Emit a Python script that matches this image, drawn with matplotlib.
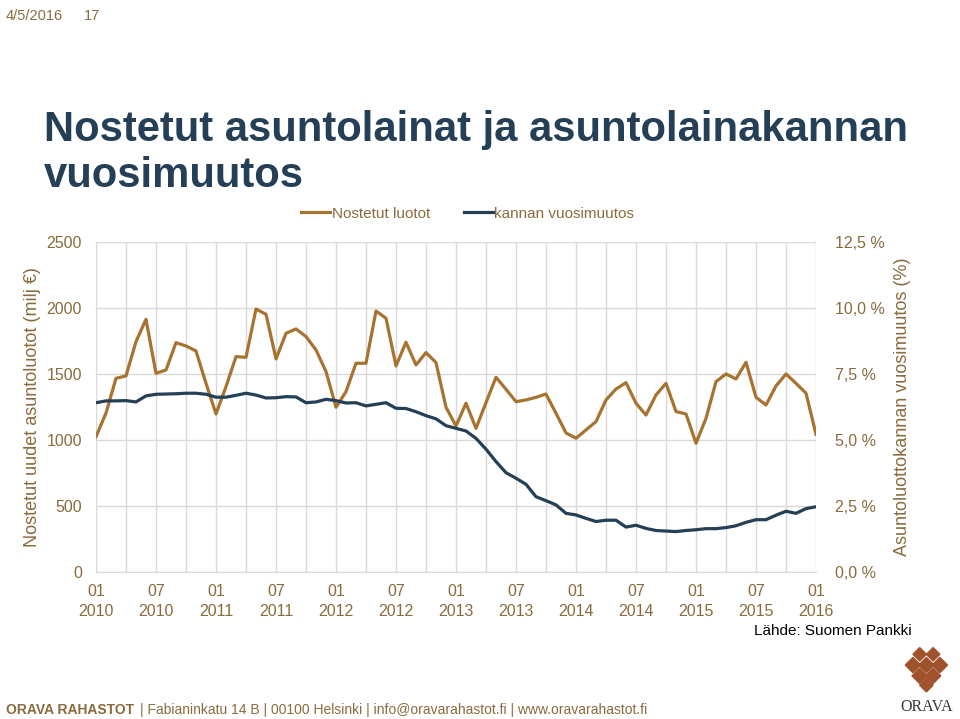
import matplotlib
matplotlib.use("Agg")
import matplotlib.pyplot as plt
from matplotlib.patches import RegularPolygon

plt.rcParams['font.family'] = ['Liberation Sans', 'DejaVu Sans']

# monthly data, 01/2010 .. 01/2016
nostetut = [1025, 1204, 1467, 1485, 1745, 1914, 1505, 1530, 1737, 1712,
            1674, 1429, 1197, 1404, 1631, 1626, 1992, 1952, 1614, 1808,
            1841, 1783, 1682, 1518, 1248, 1366, 1581, 1581, 1977, 1922,
            1561, 1740, 1568, 1662, 1586, 1248, 1106, 1278, 1088, 1283,
            1475, 1384, 1290, 1303, 1323, 1348, 1202, 1053, 1013, 1076,
            1139, 1303, 1386, 1434, 1278, 1189, 1341, 1429, 1215, 1197,
            975, 1164, 1442, 1500, 1462, 1588, 1323, 1265, 1409, 1500,
            1429, 1354, 1043]
kanta_muutos = [6.41, 6.48, 6.48, 6.49, 6.44, 6.67, 6.73, 6.74, 6.75, 6.77,
                6.77, 6.73, 6.62, 6.62, 6.69, 6.77, 6.70, 6.59, 6.60, 6.64,
                6.63, 6.41, 6.44, 6.54, 6.49, 6.40, 6.41, 6.29, 6.35, 6.41,
                6.20, 6.19, 6.07, 5.92, 5.80, 5.54, 5.44, 5.34, 5.06, 4.65,
                4.18, 3.76, 3.55, 3.32, 2.85, 2.70, 2.54, 2.22, 2.16, 2.03,
                1.91, 1.96, 1.96, 1.70, 1.77, 1.65, 1.57, 1.55, 1.53, 1.57,
                1.60, 1.64, 1.64, 1.68, 1.75, 1.88, 1.98, 1.98, 2.15, 2.30,
                2.22, 2.40, 2.47]
tick_labels = ['01\n2010', '07\n2010', '01\n2011', '07\n2011', '01\n2012',
               '07\n2012', '01\n2013', '07\n2013', '01\n2014', '07\n2014',
               '01\n2015', '07\n2015', '01\n2016']
left_ticks = [0, 500, 1000, 1500, 2000, 2500]
right_ticks = [0, 2.5, 5.0, 7.5, 10.0, 12.5]

orange = '#A87330'
navy = '#243F56'
brown = '#8A6B3D'
grid_c = '#D9D9D9'

months = list(range(len(nostetut)))

fig = plt.figure(figsize=(9.6, 7.19), dpi=100)
ax = fig.add_axes([0.1, 0.2045, 0.75, 0.459])
ax2 = ax.twinx()

l1, = ax.plot(months, nostetut, color=orange, lw=2.3, label='Nostetut luotot')
l2, = ax2.plot(months, kanta_muutos, color=navy, lw=2.3, label='kannan vuosimuutos')

ax.set_xlim(0, 72)
ax.set_ylim(0, 2500)
ax2.set_ylim(0, 12.5)
ax.set_xticks(range(0, 73, 6))
ax.set_xticklabels(tick_labels)
ax.set_xticks(range(0, 73, 3), minor=True)
ax.set_yticks(left_ticks)
ax2.set_yticks(right_ticks)
ax2.set_yticklabels([('%.1f %%' % v).replace('.', ',') for v in right_ticks])

ax.grid(True, which='both', axis='x', color=grid_c, lw=1)
ax.grid(True, which='major', axis='y', color=grid_c, lw=1)
ax.set_axisbelow(True)
for a in (ax, ax2):
    for s in a.spines.values():
        s.set_visible(False)
ax.spines['bottom'].set_visible(True)
ax.spines['bottom'].set_color(grid_c)
ax.tick_params(axis='x', which='both', colors=grid_c, length=0, labelcolor=brown,
               labelsize=11.5, pad=9)
ax.tick_params(axis='y', length=0, labelcolor=brown, labelsize=11.5, pad=10)
ax2.tick_params(axis='y', length=0, labelcolor=brown, labelsize=11.5, pad=14)
for lab in ax.get_xticklabels():
    lab.set_linespacing(1.35)

ax.set_ylabel('Nostetut uudet asuntoluotot (milj €)', color=brown, fontsize=13, labelpad=4)
ax2.set_ylabel('Asuntoluottokannan vuosimuutos (%)', color=brown, fontsize=13, labelpad=6)

fig.legend(handles=[l1, l2], loc='center', bbox_to_anchor=(0.487, 0.703), ncol=2,
           frameon=False, fontsize=11, labelcolor=brown, handlelength=1.9,
           handletextpad=0.1, columnspacing=2.2)

fig.text(0.046, 0.847, 'Nostetut asuntolainat ja asuntolainakannan\nvuosimuutos',
         fontsize=30.1, fontweight='bold', color=navy, va='top', ha='left',
         linespacing=1.18)
fig.text(0.006, 0.988, '4/5/2016', fontsize=10.5, color=brown, va='top')
fig.text(0.087, 0.988, '17', fontsize=10.5, color=brown, va='top')
fig.text(0.95, 0.122, 'Lähde: Suomen Pankki', fontsize=11, color='black',
         ha='right', va='center')

fig.text(0.006, 0.003, 'ORAVA RAHASTOT', fontsize=10, color=brown,
         fontweight='bold', va='bottom')
fig.text(0.146, 0.003, '| Fabianinkatu 14 B | 00100 Helsinki | info@oravarahastot.fi'
         ' | www.oravarahastot.fi', fontsize=10, color=brown, va='bottom')

# logo
fig.text(0.965, 0.005, 'ORAVA', fontsize=11.5, color='#3A3A3A', ha='center',
         va='bottom', family='Liberation Serif')
logo_c = '#A0522D'
for cx, cy, s in [(0.951, 0.075, 0.008), (0.965, 0.075, 0.008), (0.979, 0.075, 0.008),
                  (0.958, 0.06, 0.008), (0.972, 0.06, 0.008),
                  (0.958, 0.09, 0.007), (0.972, 0.09, 0.007), (0.965, 0.047, 0.007)]:
    fig.patches.append(RegularPolygon((cx * 960, cy * 719), 4, radius=s * 960,
                                      orientation=0, color=logo_c,
                                      transform=None, figure=fig))

fig.savefig('out.png', dpi=100)
